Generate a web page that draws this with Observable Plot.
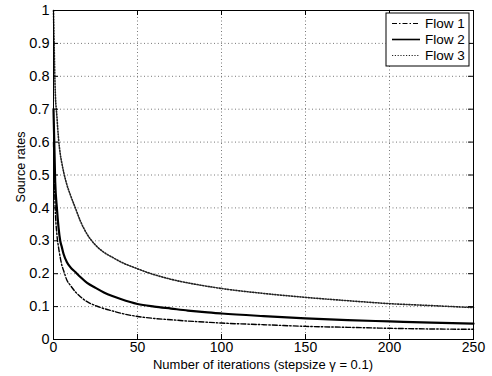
<!DOCTYPE html>
<html>
<head>
<meta charset="utf-8">
<script src="https://cdn.jsdelivr.net/npm/d3@7"></script>
<script src="https://cdn.jsdelivr.net/npm/@observablehq/plot@0.6"></script>
<style>
  html, body { margin: 0; padding: 0; background: #fff; }
  svg { display: block; }
</style>
</head>
<body>
<div id="chart"></div>
<script>
const iterations = [0, 1, 2, 3, 4, 5, 6, 8, 10, 13, 16, 20, 25, 30, 35, 40, 50, 60, 70, 80, 90, 100, 125, 150, 175, 200, 225, 250];
const flow1 = [0.60, 0.40, 0.32, 0.28, 0.25, 0.225, 0.21, 0.18, 0.165, 0.145, 0.13, 0.115, 0.103, 0.094, 0.087, 0.08, 0.07, 0.064, 0.06, 0.056, 0.053, 0.05, 0.045, 0.04, 0.037, 0.034, 0.032, 0.031];
const flow2 = [0.70, 0.48, 0.40, 0.34, 0.30, 0.28, 0.26, 0.235, 0.22, 0.205, 0.19, 0.172, 0.157, 0.143, 0.132, 0.123, 0.108, 0.100, 0.094, 0.088, 0.083, 0.079, 0.071, 0.064, 0.059, 0.055, 0.051, 0.048];
const flow3 = [1.00, 0.76, 0.68, 0.61, 0.565, 0.535, 0.51, 0.47, 0.44, 0.40, 0.36, 0.32, 0.287, 0.265, 0.25, 0.236, 0.215, 0.197, 0.183, 0.172, 0.163, 0.155, 0.14, 0.128, 0.118, 0.109, 0.103, 0.097];
const seriesNames = ["Flow 1", "Flow 2", "Flow 3"];
const xTicks = [0, 50, 100, 150, 200, 250];
const yTicks = [0, 0.1, 0.2, 0.3, 0.4, 0.5, 0.6, 0.7, 0.8, 0.9, 1];
const yTickLabels = ["0", "0.1", "0.2", "0.3", "0.4", "0.5", "0.6", "0.7", "0.8", "0.9", "1"];
const xLabel = "Number of iterations (stepsize \u03b3 = 0.1)";
const yLabel = "Source rates";

const seriesValues = [flow1, flow2, flow3];
const styles = [
  {stroke: "#000", strokeWidth: 1.4, strokeDasharray: "5,2,1.5,2"},
  {stroke: "#000", strokeWidth: 2.2},
  {stroke: "#222", strokeWidth: 1.6, strokeDasharray: "1.2,1.6"}
];
const table = seriesNames.map((name, i) => iterations.map((x, j) => ({x, y: seriesValues[i][j], name})));

const W = 492, H = 376;
const mL = 53, mR = 19, mT = 10, mB = 37;
const pw = W - mL - mR, ph = H - mT - mB;
const FONT = "Liberation Sans, Arial, Helvetica, sans-serif";

const plot = Plot.plot({
  width: W, height: H,
  marginLeft: mL, marginRight: mR, marginTop: mT, marginBottom: mB,
  style: {fontFamily: FONT, background: "#fff", color: "#000"},
  x: {domain: [0, 250]},
  y: {domain: [0, 1]},
  axis: null,
  marks: [
    Plot.gridX(xTicks.slice(1, -1), {stroke: "#555", strokeOpacity: 1, strokeWidth: 0.8, strokeDasharray: "1,2.5"}),
    Plot.gridY(yTicks.slice(1, -1), {stroke: "#555", strokeOpacity: 1, strokeWidth: 0.8, strokeDasharray: "1,2.5"}),
    ...table.map((d, i) => Plot.line(d, {x: "x", y: "y", curve: "monotone-x", ...styles[i]})),
    Plot.frame({stroke: "#000", strokeWidth: 1}),
    Plot.tickY(yTicks, {y: d => d, insetRight: pw - 5, stroke: "#000"}),
    Plot.tickY(yTicks, {y: d => d, insetLeft: pw - 5, stroke: "#000"}),
    Plot.tickX(xTicks, {x: d => d, insetTop: ph - 5, stroke: "#000"}),
    Plot.tickX(xTicks, {x: d => d, insetBottom: ph - 5, stroke: "#000"}),
    Plot.axisY(yTicks, {tickSize: 0, tickPadding: 4, fontSize: 14.5, label: null, tickFormat: (d, i) => yTickLabels[i]}),
    Plot.axisX(xTicks, {tickSize: 0, tickPadding: 3, fontSize: 14, label: null, tickFormat: d => String(d)})
  ]
});

document.getElementById("chart").appendChild(plot);
const svg = d3.select(plot);

// axis titles
svg.append("text")
  .attr("x", mL + pw / 2).attr("y", 369)
  .attr("text-anchor", "middle")
  .attr("font-size", 13)
  .attr("font-family", FONT)
  .text(xLabel);
svg.append("text")
  .attr("transform", `translate(24.5,167) rotate(-90)`)
  .attr("text-anchor", "middle")
  .attr("font-size", 12.5)
  .attr("font-family", FONT)
  .text(yLabel);

// legend
const lg = svg.append("g").attr("transform", "translate(386,13)");
lg.append("rect").attr("width", 83).attr("height", 53).attr("fill", "#fff").attr("stroke", "#000").attr("stroke-width", 1);
seriesNames.forEach((name, i) => {
  const yy = 10.5 + i * 16;
  const st = styles[i];
  lg.append("line").attr("x1", 6).attr("x2", 34).attr("y1", yy).attr("y2", yy)
    .attr("stroke", st.stroke).attr("stroke-width", i === 1 ? 1.6 : 1)
    .attr("stroke-dasharray", st.strokeDasharray || null);
  lg.append("text").attr("x", 39).attr("y", yy).attr("dy", "0.35em")
    .attr("text-anchor", "start")
    .attr("font-size", 13.5).attr("font-family", FONT)
    .text(name);
});
</script>
</body>
</html>
